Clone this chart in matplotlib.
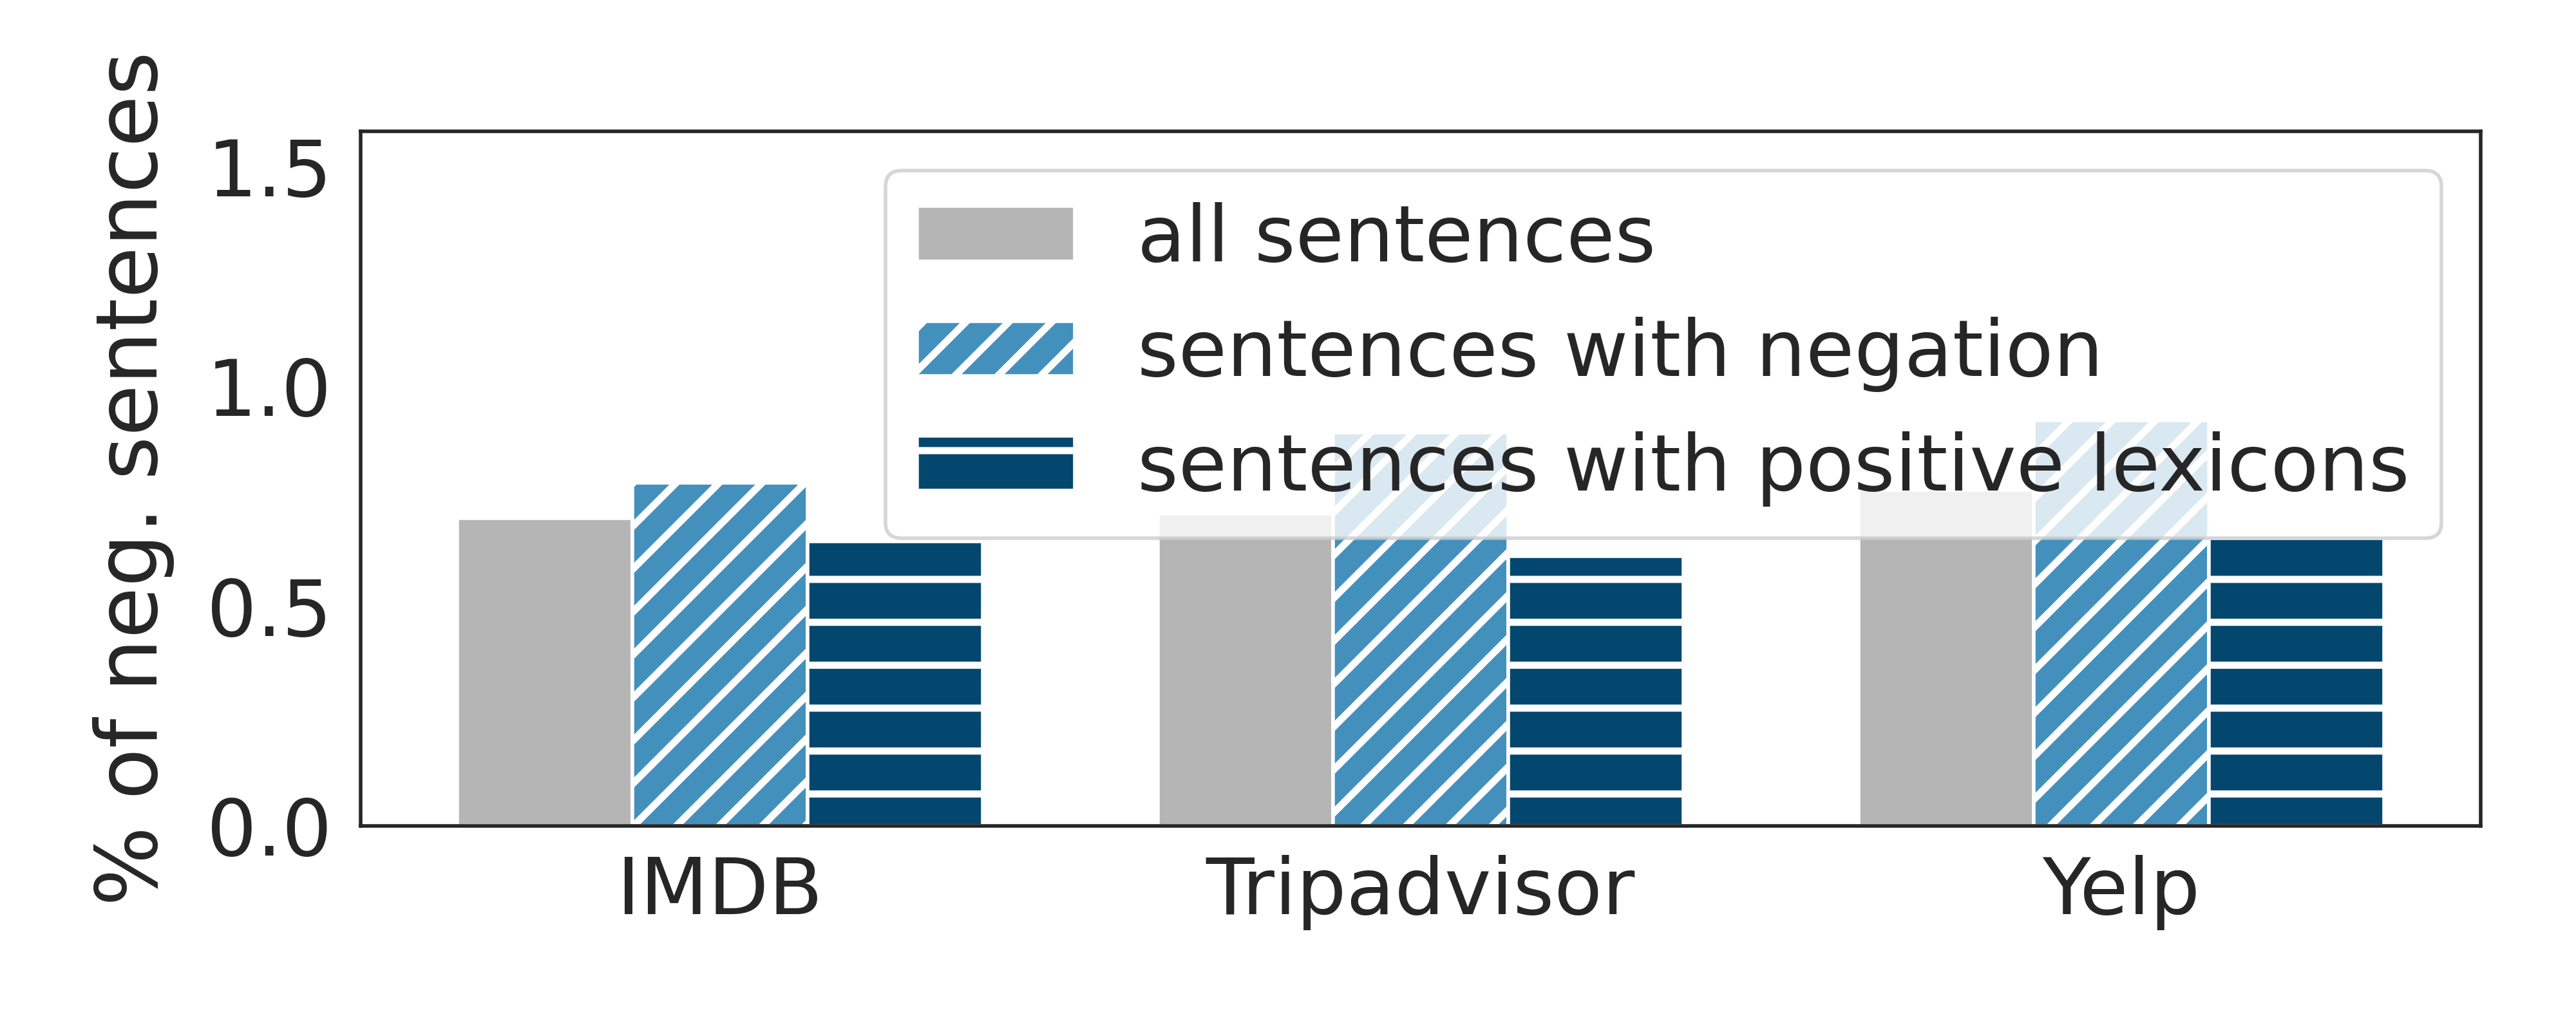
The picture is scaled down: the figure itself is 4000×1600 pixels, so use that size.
import matplotlib
matplotlib.use("Agg")
import matplotlib.pyplot as plt
import numpy as np

datasets = ["IMDB", "Tripadvisor", "Yelp"]
series_names = ["all sentences", "sentences with negation", "sentences with positive lexicons"]
all_sentences = [0.70, 0.71, 0.765]
with_negation = [0.78, 0.895, 0.922]
with_positive = [0.648, 0.613, 0.666]

colors = ["#b5b5b5", "#4490bd", "#03476f"]
hatches = ["", "//", "-"]

plt.rcParams["hatch.linewidth"] = 2.0
plt.rcParams["font.family"] = "DejaVu Sans"
text_color = "#262626"

fig, ax = plt.subplots(figsize=(10, 4), dpi=400)
fig.subplots_adjust(left=0.140, right=0.963, bottom=0.198, top=0.8725)

x = np.arange(len(datasets))
width = 0.25
values = [all_sentences, with_negation, with_positive]
for i, vals in enumerate(values):
    ax.bar(x + (i - 1) * width, vals, width, color=colors[i], hatch=hatches[i],
           edgecolor="white", linewidth=1.0, label=series_names[i])

ax.set_ylim(0, 1.58)
ax.set_yticks([0.0, 0.5, 1.0, 1.5])
ax.set_xticks(x)
ax.set_xticklabels(datasets)
ax.tick_params(axis="both", length=0, labelsize=22, colors=text_color, pad=8)
ax.set_ylabel("% of neg. sentences", fontsize=23.5, color=text_color, labelpad=9)

for spine in ax.spines.values():
    spine.set_color(text_color)
    spine.set_linewidth(1.0)

leg = ax.legend(loc="upper right", fontsize=22, handlelength=2.0, framealpha=0.8)
for t in leg.get_texts():
    t.set_color(text_color)

plt.savefig("out.png", dpi=400)
